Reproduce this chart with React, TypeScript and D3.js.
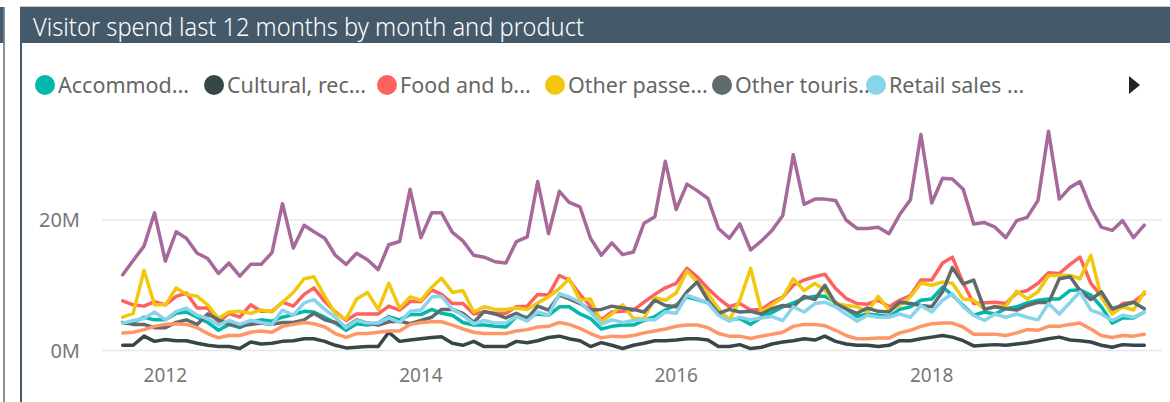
import React from "react";
import * as d3 from "d3";

const W = 1170;
const H = 402;

// monthly points, Sep 2011 .. Sep 2019 (values in millions)
const START = new Date(2011, 8, 1);
const END = new Date(2019, 8, 1);
const months = d3.timeMonth.range(START, d3.timeMonth.offset(END, 1));

const accommodation = [
  4.2, 4.3, 5.1, 4.7,
  4.7, 5.7, 5.9, 5.1, 4.3, 3.1, 4.0, 3.5, 4.3, 4.7, 4.5, 5.1,
  5.5, 6.0, 5.9, 5.1, 4.2, 3.1, 4.1, 3.9, 4.2, 5.2, 4.7, 5.5,
  5.5, 6.3, 5.7, 5.4, 4.3, 3.9, 3.9, 3.7, 3.6, 5.2, 5.1, 5.6,
  5.4, 6.7, 6.7, 5.6, 4.9, 3.3, 3.7, 3.9, 3.9, 4.6, 5.2, 6.2,
  7.0, 8.2, 7.8, 7.3, 5.6, 4.7, 4.9, 4.0, 5.1, 5.8, 6.7, 7.3,
  8.0, 8.3, 8.3, 7.4, 6.4, 5.2, 5.6, 5.4, 5.2, 6.3, 6.7, 7.7,
  7.9, 9.7, 8.5, 6.9, 5.4, 5.9, 5.6, 6.4, 6.7, 7.3, 7.7, 7.9,
  7.9, 9.2, 9.3, 8.5, 6.7, 4.2, 5.0, 5.0, 5.9,
];

const cultural = [
  0.8, 0.8, 2.2, 1.4,
  1.7, 1.5, 1.5, 1.1, 0.8, 0.6, 0.6, 0.3, 1.3, 1.0, 1.1, 1.4,
  1.5, 1.8, 1.8, 1.4, 0.8, 0.4, 0.5, 0.6, 0.6, 2.8, 1.4, 1.6,
  1.8, 2.0, 2.1, 1.1, 0.8, 1.4, 0.6, 0.6, 0.6, 1.4, 1.2, 1.5,
  2.0, 2.2, 1.8, 1.5, 0.6, 1.2, 0.8, 0.3, 0.8, 1.1, 1.5, 1.5,
  1.6, 1.8, 1.8, 1.6, 0.6, 0.6, 0.9, 0.3, 0.5, 1.0, 1.3, 1.5,
  1.8, 1.6, 2.2, 1.4, 1.0, 0.8, 0.8, 0.6, 0.8, 1.5, 1.5, 1.8,
  2.05, 2.3, 2.05, 1.5, 0.7, 0.8, 0.9, 0.8, 1.0, 1.2, 1.5, 1.8,
  2.05, 1.6, 1.5, 1.3, 0.8, 0.5, 0.9, 0.8, 0.8,
];

const foodBeverage = [
  7.6, 7.0, 6.8, 7.5,
  7.0, 8.3, 8.8, 6.5, 6.5, 4.3, 5.7, 5.1, 7.0, 6.0, 6.0, 7.4,
  6.8, 8.6, 9.6, 7.5, 5.9, 4.6, 5.6, 5.6, 5.6, 6.8, 6.2, 7.5,
  7.5, 9.3, 8.6, 7.2, 7.2, 5.6, 5.9, 5.7, 5.7, 6.7, 6.8, 8.6,
  8.5, 11.5, 10.8, 8.6, 6.8, 4.7, 5.9, 6.0, 6.2, 7.4, 8.6, 9.6,
  10.3, 12.6, 11.3, 9.5, 8.0, 6.7, 7.2, 6.2, 6.3, 7.4, 8.2, 10.0,
  10.8, 11.3, 11.7, 9.5, 8.0, 7.2, 7.1, 7.7, 6.7, 7.7, 8.4, 10.8,
  10.8, 13.4, 14.3, 10.3, 7.2, 7.3, 7.4, 7.2, 8.8, 9.2, 10.3, 11.9,
  11.8, 13.2, 14.3, 10.3, 8.4, 5.9, 7.2, 7.4, 8.7,
];

const otherPassenger = [
  5.1, 5.7, 12.3, 7.0,
  7.0, 9.6, 8.6, 8.3, 7.0, 4.9, 5.9, 6.0, 5.7, 6.2, 5.9, 7.4,
  8.9, 11.0, 11.3, 8.3, 5.7, 4.8, 7.9, 8.9, 6.3, 10.3, 6.5, 8.2,
  7.7, 9.7, 11.1, 8.9, 9.2, 5.9, 6.7, 6.3, 6.3, 6.5, 6.3, 7.3,
  8.2, 9.5, 11.0, 7.7, 7.9, 4.3, 5.6, 7.0, 4.9, 4.9, 8.1, 7.7,
  8.8, 12.2, 10.5, 8.7, 6.4, 4.7, 7.7, 12.6, 5.9, 7.0, 8.1, 11.0,
  9.2, 10.3, 9.2, 7.2, 6.9, 6.7, 5.9, 8.3, 6.2, 6.9, 8.2, 10.3,
  10.0, 10.5, 10.3, 7.9, 7.7, 6.3, 6.7, 6.8, 9.1, 7.9, 9.0, 11.5,
  11.5, 11.5, 11.0, 14.6, 8.2, 5.6, 6.7, 6.2, 9.0,
];

const otherTourism = [
  4.3, 4.0, 4.0, 3.5,
  3.5, 4.3, 4.7, 4.0, 5.6, 4.7, 4.0, 3.7, 4.0, 4.2, 4.0, 4.3,
  4.3, 4.7, 5.7, 4.7, 4.3, 3.6, 4.7, 4.2, 3.9, 4.4, 4.5, 4.1,
  4.6, 5.1, 6.3, 6.3, 5.7, 4.3, 6.0, 5.6, 5.0, 5.7, 4.9, 6.8,
  6.2, 8.5, 7.9, 7.2, 6.2, 6.3, 6.8, 6.5, 6.3, 5.9, 7.7, 6.9,
  6.7, 9.0, 10.5, 7.7, 5.7, 6.3, 5.9, 6.0, 5.6, 6.4, 6.9, 6.7,
  8.3, 7.8, 10.0, 7.2, 6.4, 5.7, 6.5, 6.0, 5.9, 7.4, 7.2, 6.9,
  6.7, 9.0, 12.7, 10.2, 10.8, 6.3, 6.7, 6.4, 6.2, 6.9, 7.4, 7.3,
  11.0, 11.3, 9.2, 7.8, 9.0, 6.4, 6.9, 7.4, 6.4,
];

const retailSales = [
  4.2, 4.6, 4.9, 5.9,
  4.7, 6.0, 6.5, 5.4, 4.9, 3.9, 4.6, 4.0, 4.6, 4.3, 4.0, 6.2,
  5.4, 7.3, 7.8, 6.3, 5.1, 3.5, 4.6, 4.2, 4.2, 5.0, 4.3, 6.0,
  6.2, 8.2, 8.3, 6.3, 5.4, 4.1, 4.6, 4.2, 4.2, 5.2, 4.5, 5.9,
  5.4, 8.7, 8.2, 7.4, 5.9, 4.0, 4.7, 4.3, 4.6, 4.7, 4.7, 5.9,
  5.7, 8.5, 7.9, 7.3, 5.4, 4.5, 5.1, 4.7, 5.0, 5.2, 4.6, 6.7,
  5.9, 7.2, 7.4, 6.7, 5.6, 4.5, 5.4, 5.1, 5.1, 5.6, 5.1, 6.9,
  5.9, 7.7, 8.7, 6.7, 5.4, 4.6, 5.6, 5.1, 5.6, 5.1, 4.7, 7.2,
  5.6, 7.4, 9.0, 6.2, 5.6, 4.6, 5.4, 5.1, 5.9,
];

const retailFuel = [
  2.7, 2.8, 3.2, 3.7,
  4.0, 4.1, 4.0, 3.5, 2.6, 1.95, 2.3, 2.3, 2.8, 3.0, 2.8, 3.7,
  4.0, 4.3, 4.1, 3.6, 2.6, 2.0, 2.6, 2.6, 2.8, 3.0, 3.0, 4.0,
  4.3, 4.4, 4.4, 3.9, 3.3, 2.8, 2.6, 2.6, 2.6, 3.0, 3.2, 3.6,
  3.7, 4.3, 4.0, 3.4, 2.6, 1.95, 2.2, 2.1, 2.3, 2.7, 3.0, 3.3,
  3.7, 3.9, 3.9, 3.5, 2.6, 2.2, 2.2, 1.85, 2.2, 2.5, 2.8, 3.7,
  4.0, 4.0, 3.8, 3.1, 2.3, 1.8, 1.8, 1.9, 1.9, 2.7, 3.1, 3.7,
  4.1, 4.2, 4.2, 3.6, 2.5, 2.5, 2.5, 2.3, 2.7, 3.2, 3.1, 3.7,
  3.7, 4.0, 4.2, 3.3, 2.3, 2.0, 2.3, 2.2, 2.5,
];

const total = [
  11.6, 13.8, 16.0, 21.1,
  13.7, 18.2, 17.2, 14.9, 14.1, 11.8, 13.4, 11.4, 13.2, 13.2, 15.0, 22.5,
  15.7, 19.2, 18.2, 17.2, 14.6, 13.2, 14.9, 13.9, 12.4, 16.2, 16.7, 24.7,
  17.3, 21.1, 21.1, 18.1, 16.8, 14.6, 14.3, 13.6, 13.4, 16.7, 17.4, 25.9,
  17.9, 24.4, 22.7, 22.0, 17.2, 14.6, 16.5, 14.7, 15.1, 19.5, 20.5, 29.0,
  21.6, 25.5, 24.5, 23.3, 18.7, 17.2, 19.4, 15.4, 16.8, 18.4, 20.7, 30.0,
  22.4, 23.2, 23.2, 23.0, 20.0, 18.7, 18.7, 18.9, 17.9, 20.8, 23.1, 33.1,
  22.6, 26.4, 26.3, 24.7, 19.4, 19.6, 18.9, 17.3, 19.9, 20.4, 23.0, 33.6,
  23.2, 25.0, 25.9, 21.8, 18.9, 18.4, 19.9, 17.3, 19.2,
];

const seriesNames = [
  "Accommodation services",
  "Cultural, recreation and gambling services",
  "Food and beverage serving services",
  "Other passenger transport",
  "Other tourism products",
  "Retail sales - alcohol, food and other",
  "Retail sales - fuel and automotive",
  "Total",
];
const legendLabels = ["Accommod...", "Cultural, rec...", "Food and b...", "Other passe...", "Other touris...", "Retail sales ..."];
const colors = ["#01B8AA", "#374649", "#FD625E", "#F2C80F", "#5F6B6D", "#8AD4EB", "#FE9666", "#A66999"];
const seriesValues = [accommodation, cultural, foodBeverage, otherPassenger, otherTourism, retailSales, retailFuel, total];

const yTicks = [0, 20];
const xTickYears = [2012, 2014, 2016, 2018];

const TITLE = "Visitor spend last 12 months by month and product";
const FONT = "'Segoe UI', 'Noto Sans', 'Open Sans', sans-serif";
const BAR = "#44596A";

// layout
const legendX = [45, 214, 387, 555, 722, 876];
const legendY = 85;

export default function App() {
  const x = d3.scaleTime().domain([START, END]).range([122.7, 1144.3]);
  const y = d3.scaleLinear().domain([0, 20]).range([350.5, 220]);

  const line = d3
    .line<number>()
    .x((_, i) => x(months[i]))
    .y((d) => y(d));

  return (
    <svg
      width={W}
      height={H}
      style={{ position: "fixed", left: 0, top: 0, background: "#fff", fontFamily: FONT }}
    >
      {/* neighbouring panel edge */}
      <rect x={0} y={7} width={3.5} height={36} fill={BAR} />
      <line x1={4} x2={4} y1={7} y2={H} stroke="#5C6E7B" strokeWidth={1.5} />

      {/* title bar */}
      <line x1={20} x2={W} y1={6.5} y2={6.5} stroke="#C9CED2" strokeWidth={1} />
      <rect x={20} y={7} width={W - 20} height={36} fill={BAR} />
      <line x1={21} x2={21} y1={43} y2={H} stroke={BAR} strokeWidth={2} />
      <text
        x={33}
        y={36}
        fill="#fff"
        fontSize={26}
        fontWeight={300}
        textLength={551}
        lengthAdjust="spacingAndGlyphs"
      >
        {TITLE}
      </text>

      {/* legend */}
      {legendLabels.map((lbl, i) => (
        <g key={lbl}>
          <circle cx={legendX[i]} cy={legendY} r={10} fill={colors[i]} />
          <text x={legendX[i] + 13} y={legendY} dy="0.35em" fontSize={21.5} fill="#666">
            {lbl}
          </text>
        </g>
      ))}
      <path d="M1129,76 L1140,85 L1129,94 Z" fill="#252423" />

      {/* gridlines + y labels */}
      {yTicks.map((t) => (
        <g key={t}>
          <line x1={102} x2={1162} y1={y(t)} y2={y(t)} stroke="#E8E8E8" strokeWidth={1.5} />
          <text x={80} y={y(t)} dy="0.35em" textAnchor="end" fontSize={20} fill="#777">
            {`${t}M`}
          </text>
        </g>
      ))}

      {/* x labels */}
      {xTickYears.map((yr) => (
        <text key={yr} x={x(new Date(yr, 0, 1))} y={382} textAnchor="middle" fontSize={19} fill="#777">
          {yr}
        </text>
      ))}

      {/* series */}
      {seriesValues.map((vals, i) => (
        <path
          key={seriesNames[i]}
          d={line(vals) || ""}
          fill="none"
          stroke={colors[i]}
          strokeWidth={3.5}
          strokeLinejoin="round"
          strokeLinecap="round"
        />
      ))}
    </svg>
  );
}
